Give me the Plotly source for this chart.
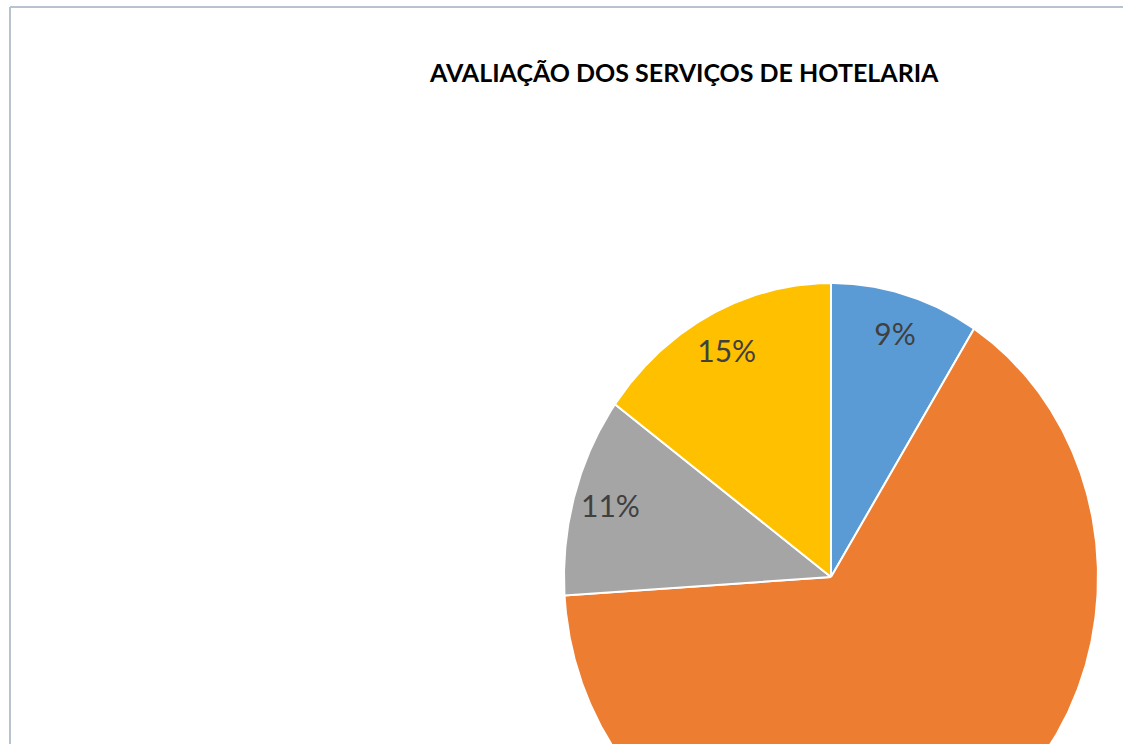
import numpy as np
import plotly.graph_objects as go

# ---- data ----
categories = ["Ótimo", "Bom", "Regular", "Ruim"]
values = [9, 65, 11, 15]
colors = ["#5B9BD5", "#ED7D31", "#A5A5A5", "#FFC000"]
title_text = "AVALIAÇÃO DOS SERVIÇOS DE HOTELARIA"

# ---- layout geometry (pixels) ----
W, H = 1123, 744
CX, CY = 831, 577      # pie centre
RX, RY = 267, 294      # pie radii (Excel pie slightly stretched)
LABEL_R = 0.86

fig = go.Figure()

total = float(sum(values))
fracs = [v / total for v in values]
start = 0.0
for cat, frac, col in zip(categories, fracs, colors):
    end = start + frac
    th = np.linspace(start, end, max(int(frac * 720), 8)) * 2 * np.pi
    xs = np.concatenate([[CX], CX + RX * np.sin(th), [CX]])
    ys = np.concatenate([[CY], CY - RY * np.cos(th), [CY]])
    fig.add_trace(go.Scatter(
        x=xs, y=ys, mode="lines", fill="toself", fillcolor=col,
        line=dict(color="white", width=2), name=cat,
        hoverinfo="name", showlegend=False))
    mid = (start + end) / 2 * 2 * np.pi
    fig.add_trace(go.Scatter(
        x=[CX + LABEL_R * RX * np.sin(mid)], y=[CY - LABEL_R * RY * np.cos(mid) + 3],
        mode="text", text=[f"{round(frac * 100)}%"],
        textfont=dict(family="Lato", size=30, color="#404040"),
        textposition="middle center", hoverinfo="skip", showlegend=False))
    start = end

fig.update_layout(
    width=W, height=H,
    margin=dict(l=0, r=0, t=0, b=0),
    paper_bgcolor="white", plot_bgcolor="white",
    xaxis=dict(range=[0, W], visible=False, fixedrange=True),
    yaxis=dict(range=[H, 0], visible=False, fixedrange=True),
    shapes=[
        dict(type="line", x0=10, y0=7, x1=W, y1=7, line=dict(color="#B9C2CF", width=2)),
        dict(type="line", x0=10, y0=7, x1=10, y1=H, line=dict(color="#B9C2CF", width=2)),
    ],
    annotations=[dict(
        x=684, y=72, xref="x", yref="y", text=f"<b>{title_text}</b>",
        showarrow=False, font=dict(family="Lato", size=25, color="#000000"),
        xanchor="center", yanchor="middle")],
)

fig.write_html("out.html", config={"displayModeBar": False},
               post_script="document.body.style.margin='0';document.body.style.overflow='hidden';")
